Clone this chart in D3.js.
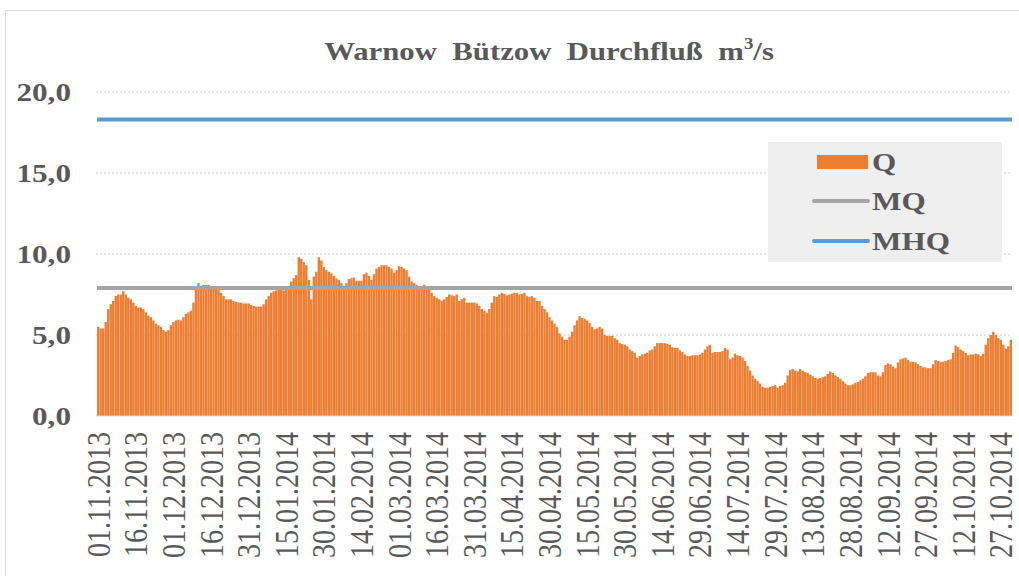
<!DOCTYPE html>
<html>
<head>
<meta charset="utf-8">
<script src="https://cdn.jsdelivr.net/npm/d3@7"></script>
<style>
  body { margin: 0; background: #fff; }
  svg { display: block; }
  text { font-family: "Liberation Serif", "Times New Roman", serif; fill: #595959; }
</style>
</head>
<body>
<div id="chart"></div>
<script>
// chart size
var svgWidth = 1019;
var svgHeight = 576;

// daily discharge Q (m3/s), 01.11.2013 - 31.10.2014
var flowQ = [
  5.5, 5.4, 5.4, 5.8, 6.6, 6.9, 7.1, 7.4, 7.5, 7.5, 7.7, 7.5, 7.3, 7.2, 7.0,
  6.8, 6.7, 6.7, 6.6, 6.4, 6.2, 6.1, 5.9, 5.7, 5.6, 5.5, 5.3, 5.2, 5.3, 5.6,
  5.8, 5.9, 5.95, 5.9, 6.1, 6.3, 6.4, 6.5, 7.0, 7.8, 8.2, 8.0, 8.1, 8.1, 8.1,
  7.9, 7.9, 7.9, 7.8, 7.6, 7.4, 7.2, 7.2, 7.2, 7.1, 7.05, 7.0, 7.0, 6.95, 6.95,
  6.95, 6.85, 6.8, 6.75, 6.75, 6.75, 6.9, 7.2, 7.4, 7.6, 7.7, 7.75, 7.8, 7.8, 7.75,
  7.8, 7.9, 8.3, 8.5, 8.7, 9.8, 9.7, 9.5, 9.3, 8.4, 7.2, 8.6, 8.9, 9.8, 9.6,
  9.2, 9.0, 8.9, 8.8, 8.65, 8.5, 8.4, 8.2, 8.0, 8.2, 8.45, 8.5, 8.55, 8.35, 8.35,
  8.35, 8.75, 8.85, 8.65, 8.4, 8.75, 9.1, 9.2, 9.3, 9.3, 9.3, 9.2, 9.1, 8.85, 9.0,
  9.25, 9.2, 9.1, 9.0, 8.6, 8.3, 8.2, 8.1, 7.9, 7.9, 8.1, 8.0, 7.8, 7.6, 7.4,
  7.3, 7.2, 7.1, 7.2, 7.35, 7.5, 7.45, 7.4, 7.5, 7.1, 7.2, 7.3, 7.0, 7.0, 7.0,
  7.0, 6.95, 6.8, 6.6, 6.5, 6.35, 6.6, 7.0, 7.4, 7.35, 7.5, 7.6, 7.55, 7.45, 7.5,
  7.55, 7.6, 7.6, 7.5, 7.55, 7.6, 7.4, 7.35, 7.4, 7.3, 7.1, 7.1, 6.8, 6.6, 6.4,
  6.1, 5.9, 5.7, 5.5, 5.1, 4.9, 4.7, 4.7, 4.9, 5.2, 5.6, 5.9, 6.15, 6.05, 6.0,
  5.9, 5.75, 5.5, 5.35, 5.4, 5.5, 5.4, 5.0, 4.95, 4.95, 4.95, 4.8, 4.7, 4.5, 4.45,
  4.4, 4.3, 4.1, 4.0, 3.9, 3.6, 3.7, 3.8, 3.85, 3.9, 4.05, 4.1, 4.3, 4.5, 4.5,
  4.5, 4.5, 4.45, 4.4, 4.25, 4.2, 4.2, 4.05, 3.95, 3.8, 3.7, 3.7, 3.75, 3.75, 3.75,
  3.8, 3.9, 4.1, 4.3, 4.4, 3.9, 3.95, 3.95, 3.95, 4.0, 4.2, 4.1, 3.5, 3.6, 3.85,
  3.75, 3.7, 3.6, 3.4, 3.1, 2.8, 2.5, 2.3, 2.15, 2.0, 1.8, 1.75, 1.75, 1.8, 1.85,
  1.9, 1.75, 1.85, 1.9, 2.05, 2.5, 2.85, 2.9, 2.8, 2.75, 2.9, 2.8, 2.7, 2.65, 2.55,
  2.45, 2.35, 2.3, 2.35, 2.4, 2.45, 2.6, 2.75, 2.65, 2.5, 2.4, 2.3, 2.15, 2.0, 1.9,
  1.9, 1.95, 2.05, 2.1, 2.2, 2.3, 2.45, 2.65, 2.7, 2.7, 2.7, 2.5, 2.45, 2.7, 3.15,
  3.25, 3.2, 3.05, 2.95, 3.3, 3.5, 3.55, 3.6, 3.45, 3.35, 3.35, 3.3, 3.2, 3.1, 3.0,
  3.0, 2.95, 2.95, 3.2, 3.45, 3.4, 3.35, 3.35, 3.4, 3.45, 3.5, 3.9, 4.35, 4.25, 4.1,
  4.0, 3.9, 3.75, 3.8, 3.8, 3.85, 3.8, 3.7, 3.85, 4.4, 4.8, 5.0, 5.2, 5.0, 4.8,
  4.7, 4.4, 4.15, 4.3, 4.7
];

// reference lines
var meanQ = 7.9;
var meanHighQ = 18.3;

// axis labels
var yTicks = [0, 5, 10, 15, 20];
var yTickLabels = ["0,0", "5,0", "10,0", "15,0", "20,0"];
var xTickLabels = ["01.11.2013", "16.11.2013", "01.12.2013", "16.12.2013", "31.12.2013",
  "15.01.2014", "30.01.2014", "14.02.2014", "01.03.2014", "16.03.2014", "31.03.2014",
  "15.04.2014", "30.04.2014", "15.05.2014", "30.05.2014", "14.06.2014", "29.06.2014",
  "14.07.2014", "29.07.2014", "13.08.2014", "28.08.2014", "12.09.2014", "27.09.2014",
  "12.10.2014", "27.10.2014"];
var legendLabels = ["Q", "MQ", "MHQ"];
var titleText = "Warnow  Bützow  Durchfluß  m";

var colorQ = "#ed7d31", colorMQ = "#a5a5a5", colorMHQ = "#5b9bd5";
var stretch = 1.2; // the picture is widened a bit

// dates for the bars
var fmt = d3.timeFormat("%d.%m.%Y");
var days = d3.timeDay.range(new Date(2013, 10, 1), new Date(2014, 10, 1)).map(fmt);
var data = days.map(function (d, i) { return { day: d, q: flowQ[i] }; });

var plot = { left: 97, right: 1012, top: 92, bottom: 416 };

var svg = d3.select("#chart").append("svg")
  .attr("width", svgWidth)
  .attr("height", svgHeight);

// chart frame
svg.append("rect")
  .attr("x", 5.5).attr("y", 10.5)
  .attr("width", 1100).attr("height", 700)
  .attr("fill", "none").attr("stroke", "#d9d9d9");

var x = d3.scaleBand().domain(days).range([plot.left, plot.right]).paddingInner(0.05);
var y = d3.scaleLinear().domain([0, 20]).range([plot.bottom, plot.top]);

// gridlines
svg.append("g").selectAll("line")
  .data(yTicks.slice(1))
  .enter().append("line")
  .attr("x1", plot.left - 1).attr("x2", plot.right)
  .attr("y1", d => y(d)).attr("y2", d => y(d))
  .attr("stroke", "#cfcfcf").attr("stroke-dasharray", "2,2");

// bars
svg.append("g").selectAll("rect")
  .data(data)
  .enter().append("rect")
  .attr("x", d => x(d.day))
  .attr("width", x.bandwidth())
  .attr("y", d => y(d.q))
  .attr("height", d => y(0) - y(d.q))
  .attr("fill", colorQ);

// baseline
svg.append("line")
  .attr("x1", plot.left - 1).attr("x2", plot.right)
  .attr("y1", y(0)).attr("y2", y(0))
  .attr("stroke", "#d9d9d9");

// MQ and MHQ
svg.append("line")
  .attr("x1", plot.left).attr("x2", plot.right)
  .attr("y1", y(meanQ)).attr("y2", y(meanQ))
  .attr("stroke", colorMQ).attr("stroke-width", 4);
svg.append("line")
  .attr("x1", plot.left).attr("x2", plot.right)
  .attr("y1", y(meanHighQ)).attr("y2", y(meanHighQ))
  .attr("stroke", colorMHQ).attr("stroke-width", 4);

// y labels
svg.append("g").selectAll("text")
  .data(yTicks)
  .enter().append("text")
  .attr("transform", d => `translate(71, ${y(d)}) scale(${stretch},1)`)
  .attr("dy", "0.35em")
  .attr("text-anchor", "end")
  .attr("font-size", 26)
  .attr("font-weight", "bold")
  .text((d, i) => yTickLabels[i]);

// x labels (every 15 days)
var xAxis = d3.axisBottom(x).tickValues(xTickLabels).tickSize(0);
var xg = svg.append("g")
  .attr("transform", `translate(0, ${y(0)})`)
  .call(xAxis);
xg.select(".domain").remove();
xg.selectAll("text")
  .attr("x", -16).attr("y", 0)
  .attr("dy", "0.35em")
  .attr("text-anchor", "end")
  .attr("transform", `scale(${stretch - 0.02},1) rotate(-90)`)
  .style("font-size", "28px")
  .style("font-family", "'Liberation Serif', serif")
  .attr("fill", "#595959");

// title
var title = svg.append("text")
  .attr("text-anchor", "middle")
  .attr("font-size", 26)
  .attr("font-weight", "bold")
  .style("white-space", "pre");
title.append("tspan").text(titleText);
title.append("tspan").attr("font-size", 16).attr("dy", -11).text("3");
title.append("tspan").attr("dy", 11).text("/s");
var tw = title.node().getBBox().width;
title.attr("transform", `translate(549, 60) scale(${450 / tw},1)`);

// legend
var legend = svg.append("g");
legend.append("rect")
  .attr("x", 768).attr("y", 142)
  .attr("width", 234).attr("height", 120)
  .attr("fill", "#efefef");

var legendY = [162, 201, 241];
legendLabels.forEach(function (name, i) {
  if (i === 0) {
    legend.append("rect")
      .attr("x", 817).attr("y", legendY[i] - 7)
      .attr("width", 51).attr("height", 14)
      .attr("fill", colorQ);
  } else {
    legend.append("line")
      .attr("x1", 814).attr("x2", 868)
      .attr("y1", legendY[i]).attr("y2", legendY[i])
      .attr("stroke", i === 1 ? colorMQ : colorMHQ)
      .attr("stroke-width", 4)
      .attr("stroke-linecap", "round");
  }
  legend.append("text")
    .attr("transform", `translate(872, ${legendY[i]}) scale(${stretch},1)`)
    .attr("dy", "0.35em")
    .attr("font-size", 26)
    .attr("font-weight", "bold")
    .text(name);
});
</script>
</body>
</html>
